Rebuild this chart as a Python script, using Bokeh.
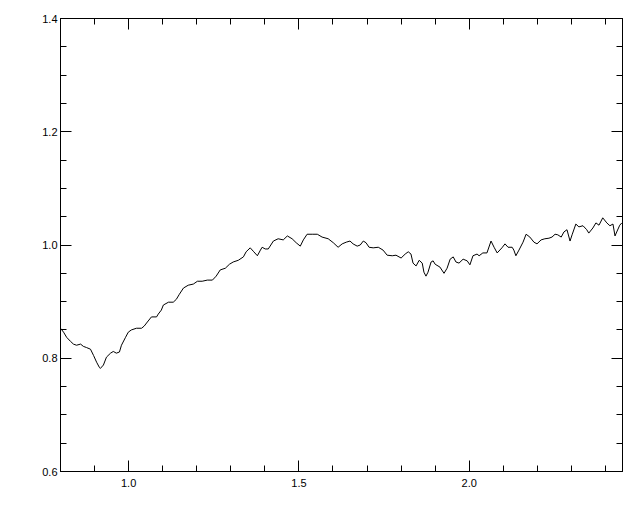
from bokeh.plotting import figure
from bokeh.models import Range1d, LinearAxis, FixedTicker, PrintfTickFormatter, CustomJSTickFormatter
from bokeh.embed import file_html
from bokeh.resources import INLINE

# Data
wave = [0.800, 0.809, 0.818, 0.829, 0.838, 0.847, 0.859, 0.867, 0.876, 0.888,
        0.897, 0.906, 0.914, 0.917, 0.926, 0.935, 0.947, 0.955, 0.964, 0.973,
        0.979, 0.991, 0.999, 1.008, 1.023, 1.038, 1.046, 1.055, 1.067, 1.082,
        1.087, 1.096, 1.102, 1.117, 1.131, 1.140, 1.149, 1.161, 1.175, 1.190,
        1.202, 1.216, 1.231, 1.246, 1.257, 1.269, 1.284, 1.296, 1.307, 1.322,
        1.337, 1.345, 1.357, 1.366, 1.378, 1.387, 1.392, 1.401, 1.410, 1.425,
        1.439, 1.454, 1.466, 1.480, 1.492, 1.504, 1.513, 1.524, 1.539, 1.554,
        1.568, 1.586, 1.601, 1.615, 1.627, 1.639, 1.650, 1.659, 1.671, 1.680,
        1.689, 1.697, 1.706, 1.718, 1.733, 1.747, 1.759, 1.774, 1.785, 1.800,
        1.812, 1.821, 1.829, 1.835, 1.844, 1.853, 1.862, 1.867, 1.873, 1.879,
        1.888, 1.894, 1.900, 1.914, 1.926, 1.935, 1.944, 1.953, 1.961, 1.970,
        1.982, 1.994, 2.002, 2.011, 2.023, 2.029, 2.040, 2.052, 2.064, 2.073,
        2.082, 2.096, 2.105, 2.114, 2.126, 2.131, 2.137, 2.146, 2.158, 2.167,
        2.178, 2.190, 2.199, 2.211, 2.222, 2.234, 2.243, 2.252, 2.260, 2.270,
        2.278, 2.287, 2.296, 2.302, 2.313, 2.322, 2.334, 2.345, 2.351, 2.363,
        2.372, 2.381, 2.392, 2.404, 2.413, 2.422, 2.428, 2.433, 2.442, 2.448]
flux = [0.853, 0.846, 0.837, 0.830, 0.825, 0.823, 0.825, 0.821, 0.819, 0.816,
        0.805, 0.793, 0.784, 0.782, 0.788, 0.802, 0.809, 0.812, 0.809, 0.811,
        0.823, 0.837, 0.846, 0.850, 0.853, 0.853, 0.857, 0.864, 0.873, 0.873,
        0.878, 0.885, 0.894, 0.899, 0.899, 0.904, 0.913, 0.924, 0.929, 0.931,
        0.936, 0.936, 0.938, 0.938, 0.945, 0.956, 0.959, 0.966, 0.970, 0.973,
        0.979, 0.988, 0.995, 0.989, 0.981, 0.991, 0.996, 0.993, 0.993, 1.007,
        1.011, 1.009, 1.016, 1.011, 1.004, 0.998, 1.009, 1.019, 1.019, 1.019,
        1.014, 1.011, 1.004, 0.996, 1.002, 1.005, 1.007, 1.002, 0.998, 1.000,
        1.007, 1.004, 0.996, 0.995, 0.996, 0.991, 0.982, 0.981, 0.982, 0.977,
        0.984, 0.988, 0.984, 0.968, 0.963, 0.973, 0.968, 0.952, 0.945, 0.952,
        0.970, 0.972, 0.966, 0.961, 0.950, 0.959, 0.975, 0.979, 0.970, 0.968,
        0.975, 0.972, 0.965, 0.981, 0.984, 0.981, 0.986, 0.986, 1.007, 0.996,
        0.986, 0.995, 1.002, 0.996, 0.996, 0.991, 0.981, 0.991, 1.005, 1.019,
        1.014, 1.005, 1.002, 1.009, 1.011, 1.012, 1.014, 1.019, 1.018, 1.014,
        1.023, 1.027, 1.007, 1.018, 1.037, 1.032, 1.034, 1.027, 1.021, 1.030,
        1.039, 1.035, 1.048, 1.039, 1.034, 1.037, 1.016, 1.023, 1.035, 1.039]

x_major = [1.0, 1.5, 2.0]
x_minor = [0.8, 0.9, 1.1, 1.2, 1.3, 1.4, 1.6, 1.7, 1.8, 1.9, 2.1, 2.2, 2.3, 2.4]
y_major = [0.6, 0.8, 1.0, 1.2, 1.4]
y_minor = [0.65, 0.7, 0.75, 0.85, 0.9, 0.95, 1.05, 1.1, 1.15, 1.25, 1.3, 1.35]

p = figure(width=632, height=504, output_backend="svg", toolbar_location=None,
           x_range=Range1d(0.8, 2.45), y_range=Range1d(0.6, 1.4),
           x_axis_location=None, y_axis_location=None,
           min_border_left=60, min_border_right=10, min_border_top=18,
           min_border_bottom=33)
p.grid.visible = False
p.outline_line_color = "black"
p.outline_line_width = 1
p.background_fill_color = "white"
p.border_fill_color = "white"

xt = FixedTicker(ticks=x_major, minor_ticks=x_minor)
yt = FixedTicker(ticks=y_major, minor_ticks=y_minor)


def style(ax, show_labels, standoff):
    ax.major_tick_in = 11
    ax.major_tick_out = 0
    ax.minor_tick_in = 6
    ax.minor_tick_out = 0
    ax.axis_line_color = "black"
    ax.major_tick_line_color = "black"
    ax.minor_tick_line_color = "black"
    ax.major_label_text_font = "Liberation Sans"
    ax.major_label_text_font_size = "11px"
    ax.major_label_text_color = "black"
    ax.major_label_standoff = standoff
    if show_labels:
        ax.formatter = PrintfTickFormatter(format="%.1f")
    else:
        ax.formatter = CustomJSTickFormatter(code="return ''")


bottom = LinearAxis(ticker=xt)
style(bottom, True, 7)
left = LinearAxis(ticker=yt)
style(left, True, 3)
top = LinearAxis(ticker=xt)
style(top, False, 0)
right = LinearAxis(ticker=yt)
style(right, False, 0)
p.add_layout(bottom, "below")
p.add_layout(left, "left")
p.add_layout(top, "above")
p.add_layout(right, "right")

p.line(wave, flux, line_color="black", line_width=1)

open("out.html", "w").write(file_html(p, INLINE))
